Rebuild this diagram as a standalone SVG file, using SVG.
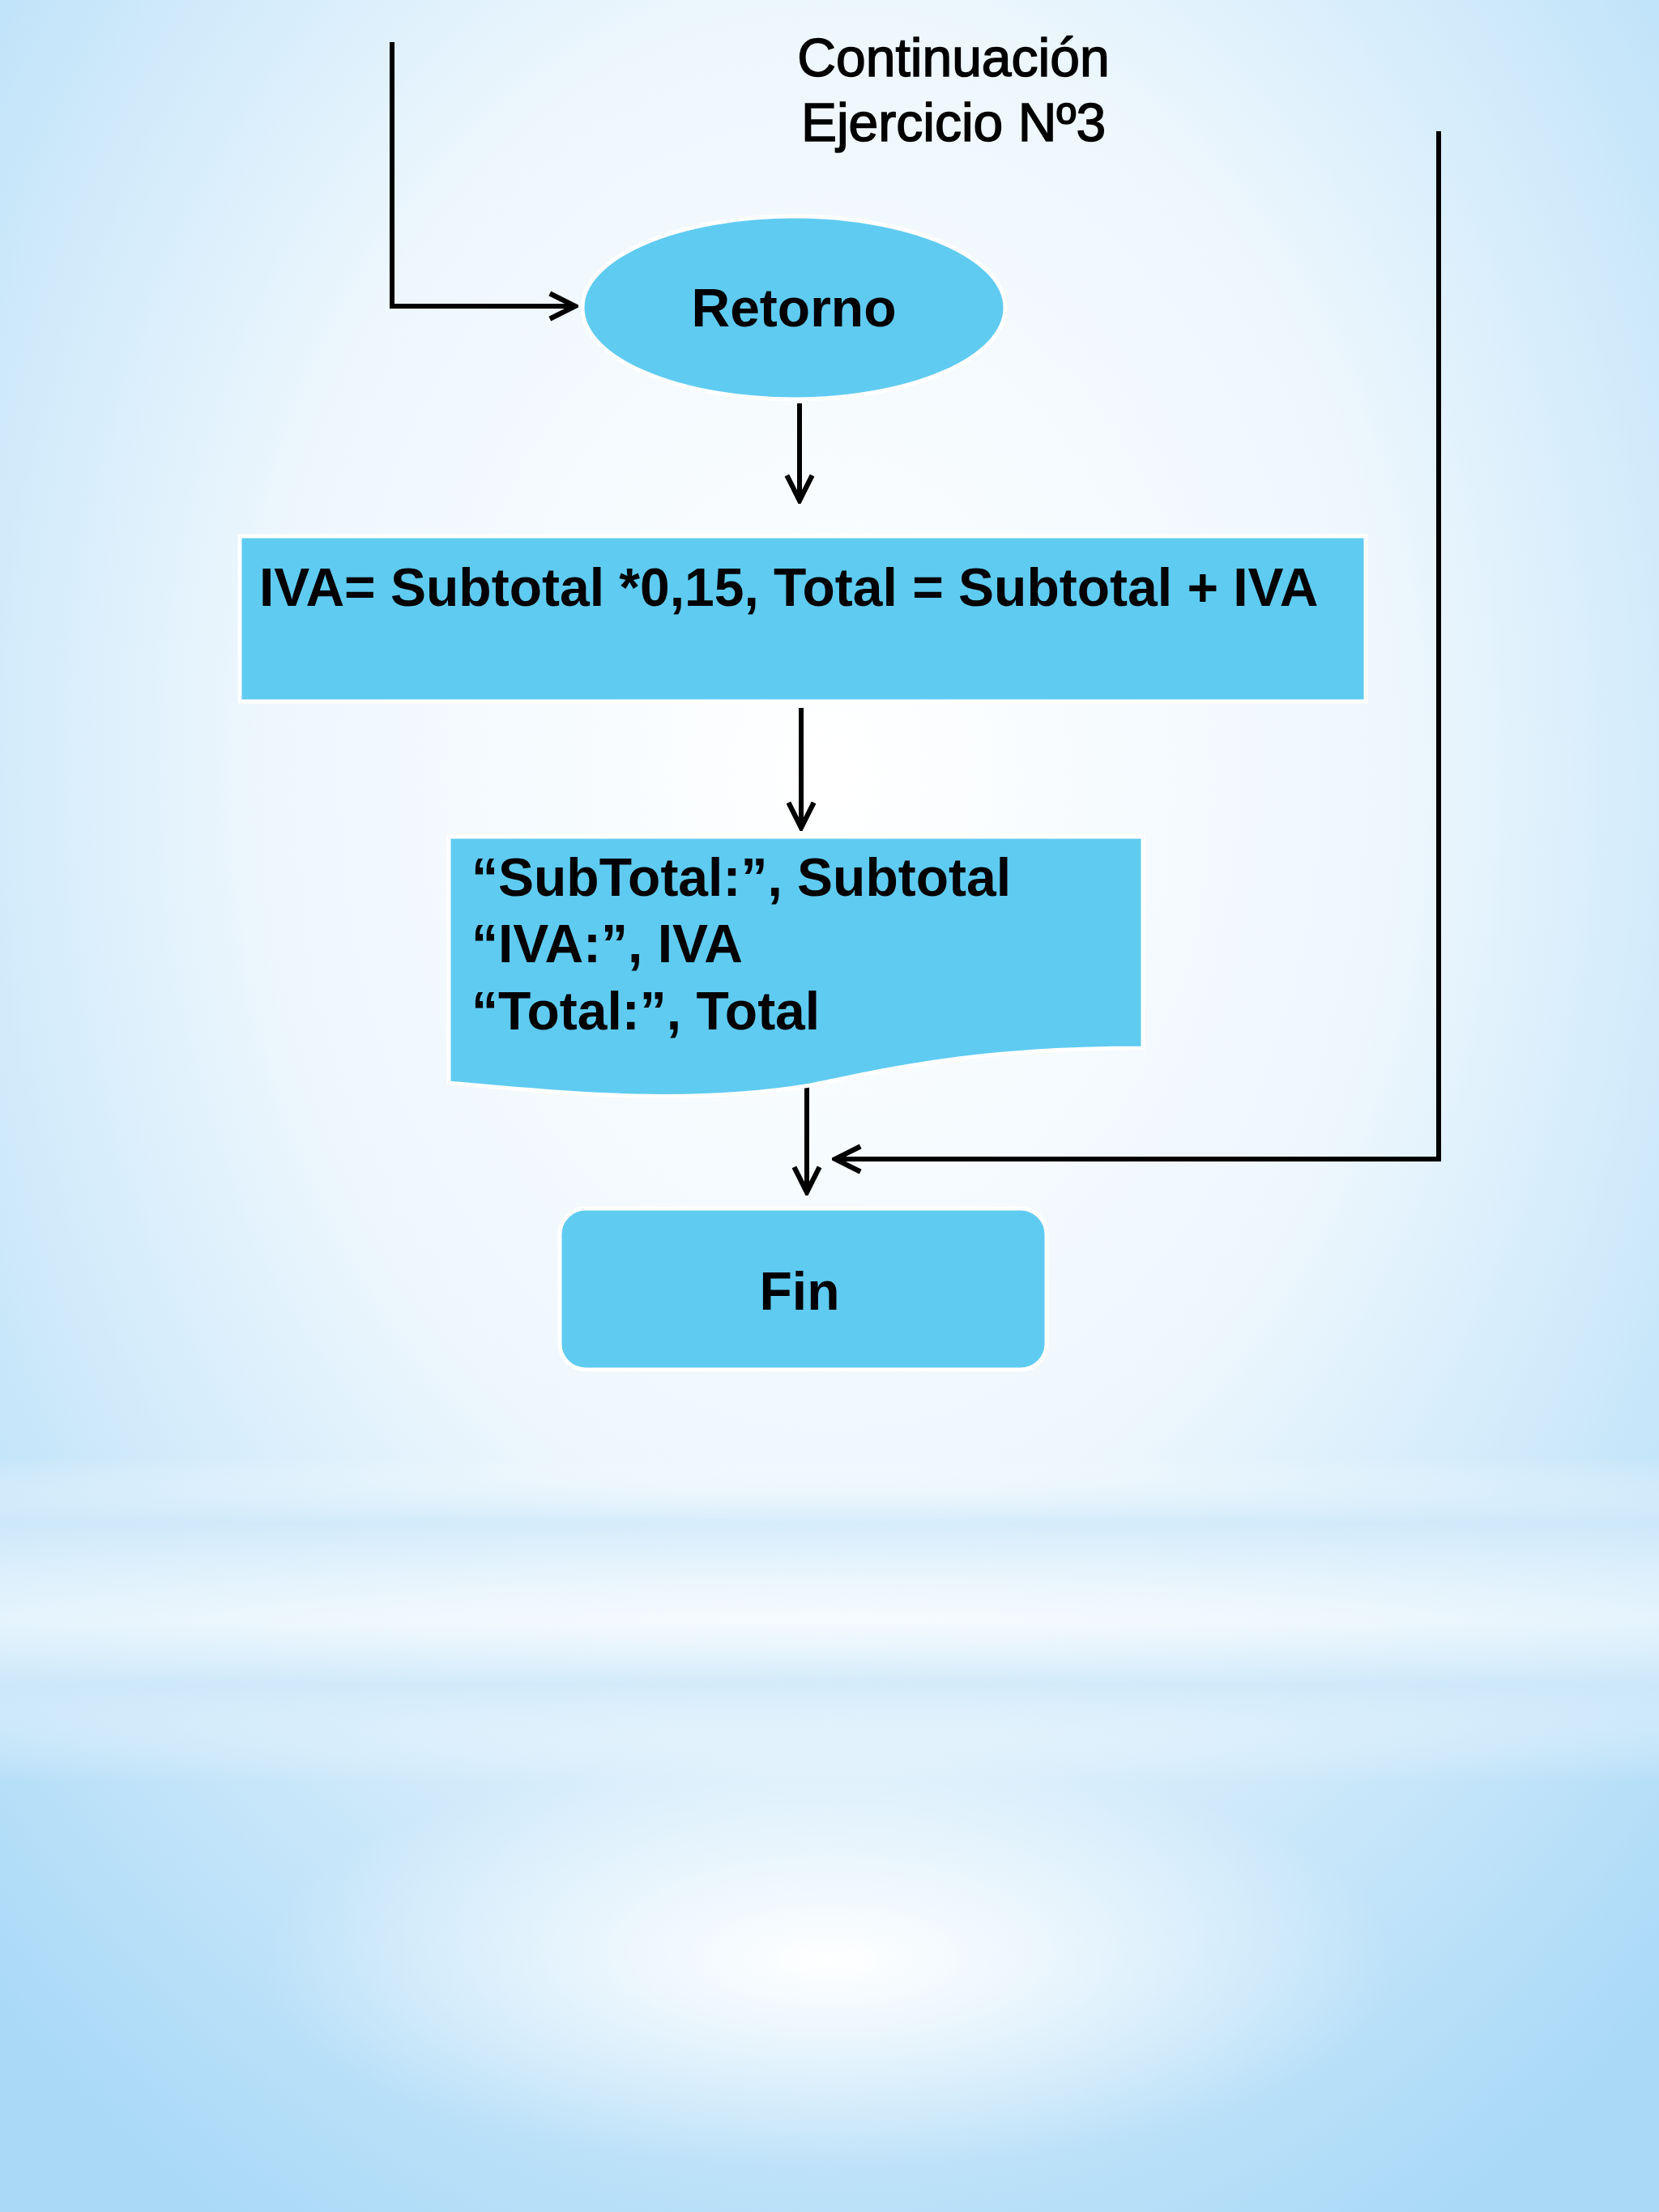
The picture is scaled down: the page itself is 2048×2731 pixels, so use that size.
<svg xmlns="http://www.w3.org/2000/svg" width="2048" height="2731" viewBox="0 0 2048 2731">
<defs>
<radialGradient id="bg" cx="0.5" cy="0.35" r="0.75">
<stop offset="0" stop-color="#ffffff"/><stop offset="0.45" stop-color="#eef7fd"/><stop offset="1" stop-color="#a9d9f7"/>
</radialGradient>
<linearGradient id="band" x1="0" y1="0" x2="0" y2="1">
<stop offset="0" stop-color="#ffffff" stop-opacity="0"/>
<stop offset="0.2" stop-color="#cfe9fa" stop-opacity="0.8"/>
<stop offset="0.5" stop-color="#ffffff" stop-opacity="0.6"/>
<stop offset="0.7" stop-color="#cfe9fa" stop-opacity="0.8"/>
<stop offset="1" stop-color="#ffffff" stop-opacity="0"/>
</linearGradient>
<radialGradient id="low" cx="0.5" cy="0.5" r="0.5">
<stop offset="0" stop-color="#ffffff"/><stop offset="1" stop-color="#ffffff" stop-opacity="0"/>
</radialGradient>
<marker id="ah" viewBox="0 0 10 10" refX="9" refY="5" markerWidth="6.5" markerHeight="6.5" orient="auto" markerUnits="strokeWidth">
<path d="M1,1 L9,5 L1,9" fill="none" stroke="#000" stroke-width="1.6"/>
</marker>
</defs>
<style>
.sh{fill:#5FCBF1;stroke:#ffffff;stroke-width:5}
.t{font-family:"Liberation Sans",Arial,sans-serif;font-weight:bold;fill:#000;font-size:66px}
.ti{font-family:"Liberation Sans",Arial,sans-serif;fill:#000;stroke:#000;stroke-width:1.5;font-size:66px}
.c{fill:none;stroke:#000;stroke-width:6}
</style>
<rect width="2048" height="2731" fill="url(#bg)"/>
<rect y="1800" width="2048" height="400" fill="url(#band)"/>
<ellipse cx="1024" cy="2420" rx="700" ry="260" fill="url(#low)"/>
<g id="title">
<text class="ti" x="1177" y="94" text-anchor="middle">Continuación</text>
<text class="ti" x="1177" y="174" text-anchor="middle">Ejercicio Nº3</text>
</g>
<g id="connectors">
<polyline class="c" points="484,52 484,378 710,378" marker-end="url(#ah)"/>
<line class="c" x1="987" y1="498" x2="987" y2="618" marker-end="url(#ah)"/>
<line class="c" x1="989" y1="874" x2="989" y2="1022" marker-end="url(#ah)"/>
<line class="c" x1="996" y1="1324" x2="996" y2="1472" marker-end="url(#ah)"/>
<polyline class="c" points="1776,162 1776,1431 1031,1431" marker-end="url(#ah)"/>
</g>
<g id="retorno">
<ellipse class="sh" cx="980" cy="380" rx="261" ry="113"/>
<text class="t" x="980" y="403" text-anchor="middle">Retorno</text>
</g>
<g id="calc">
<rect class="sh" x="296" y="662" width="1390" height="204"/>
<text class="t" x="320" y="748">IVA= Subtotal *0,15, Total = Subtotal + IVA</text>
</g>
<g id="output">
<path class="sh" d="M554,1033 H1411 V1294 C1200,1294 1100,1320 1000,1340 C850,1365 700,1350 554,1337 Z"/>
<text class="t" x="582" y="1106">“SubTotal:”, Subtotal</text>
<text class="t" x="582" y="1188">“IVA:”, IVA</text>
<text class="t" x="582" y="1271">“Total:”, Total</text>
</g>
<g id="fin">
<rect class="sh" x="691" y="1492" width="601" height="199" rx="32"/>
<text class="t" x="987" y="1617" text-anchor="middle">Fin</text>
</g>
</svg>
